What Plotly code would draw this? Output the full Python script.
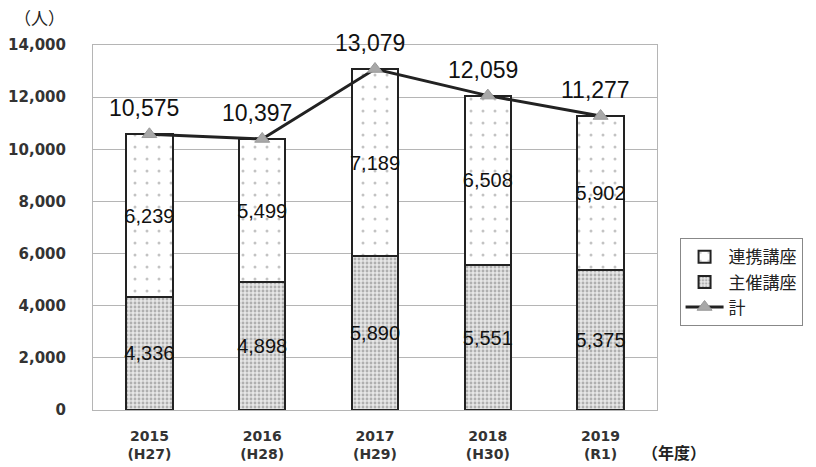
import plotly.graph_objects as go

years = ["2015<br>(H27)", "2016<br>(H28)", "2017<br>(H29)", "2018<br>(H30)", "2019<br>(R1)"]
shusai = [4336, 4898, 5890, 5551, 5375]
renkei = [6239, 5499, 7189, 6508, 5902]
total = [10575, 10397, 13079, 12059, 11277]

seg_font = dict(family="Liberation Sans, Arial", size=20, color="#111")
tot_font = dict(family="Liberation Sans, Arial", size=23, color="#111")

fig = go.Figure()
fig.add_trace(go.Bar(
    x=years, y=shusai, name="主催講座",
    marker=dict(color="#d8d8d8", line=dict(color="#222", width=2),
                pattern=dict(shape=".", fgcolor="#777", bgcolor="#e6e6e6", size=4, solidity=0.4)),
    text=[f"{v:,}" for v in shusai], textposition="inside", insidetextanchor="middle",
    constraintext="none", textfont=seg_font, textangle=0,
))
fig.add_trace(go.Bar(
    x=years, y=renkei, name="連携講座",
    marker=dict(color="white", line=dict(color="#222", width=2),
                pattern=dict(shape=".", fgcolor="#888", bgcolor="white", size=12, solidity=0.05)),
    text=[f"{v:,}" for v in renkei], textposition="inside", insidetextanchor="middle",
    constraintext="none", textfont=seg_font, textangle=0,
))
fig.add_trace(go.Scatter(
    x=years, y=total, name="計", mode="lines+markers",
    line=dict(color="#222", width=3),
    marker=dict(symbol="triangle-up", size=13, color="#a8a8a8", line=dict(color="#999", width=1)),
    cliponaxis=False,
))
for xv, yv in zip(years, total):
    fig.add_annotation(x=xv, y=yv, text=f"{yv:,}", showarrow=False,
                       yanchor="bottom", yshift=11, xshift=-5, font=tot_font)

fig.update_layout(
    width=816, height=467,
    margin=dict(l=93, r=159, t=45, b=57),
    paper_bgcolor="white", plot_bgcolor="white",
    barmode="stack", bargap=0.59,
    showlegend=True,
    legend=dict(x=1.04, y=0.35, xanchor="left", yanchor="middle",
                bordercolor="#888", borderwidth=1, traceorder="normal",
                itemwidth=38,
                font=dict(family="Noto Sans CJK JP", size=17, color="#222")),
    font=dict(family="Liberation Sans, Arial", color="#333"),
)
fig.update_yaxes(range=[0, 14000], dtick=2000, tickformat=",",
                 showgrid=True, gridcolor="#b5b5b5", gridwidth=1,
                 showline=True, linecolor="#b5b5b5", mirror=True,
                 ticks="", ticklabelstandoff=23, automargin=False,
                 tickfont=dict(family="DejaVu Sans", size=15, color="#333", weight="bold"),
                 zeroline=False)
fig.update_xaxes(showline=True, linecolor="#b5b5b5", mirror=True, ticks="",
                 ticklabelstandoff=13, automargin=False,
                 tickfont=dict(family="DejaVu Sans", size=14, color="#333", weight="bold"))

fig.add_annotation(text="（人）", xref="paper", yref="paper", x=-0.095, y=1.035,
                   xanchor="center", yanchor="bottom", showarrow=False,
                   font=dict(family="Noto Sans CJK JP", size=17, color="#222"))
fig.add_annotation(text="（年度）", xref="paper", yref="paper", x=0.97, y=-0.115,
                   xanchor="left", yanchor="middle", showarrow=False,
                   font=dict(family="Noto Sans CJK JP", size=16, color="#222", weight="bold"))

fig.data[0].legendrank = 2
fig.data[1].legendrank = 1
fig.data[2].legendrank = 3

fig.write_html("out.html", config={"displayModeBar": False},
               post_script="document.body.style.margin='0';")
